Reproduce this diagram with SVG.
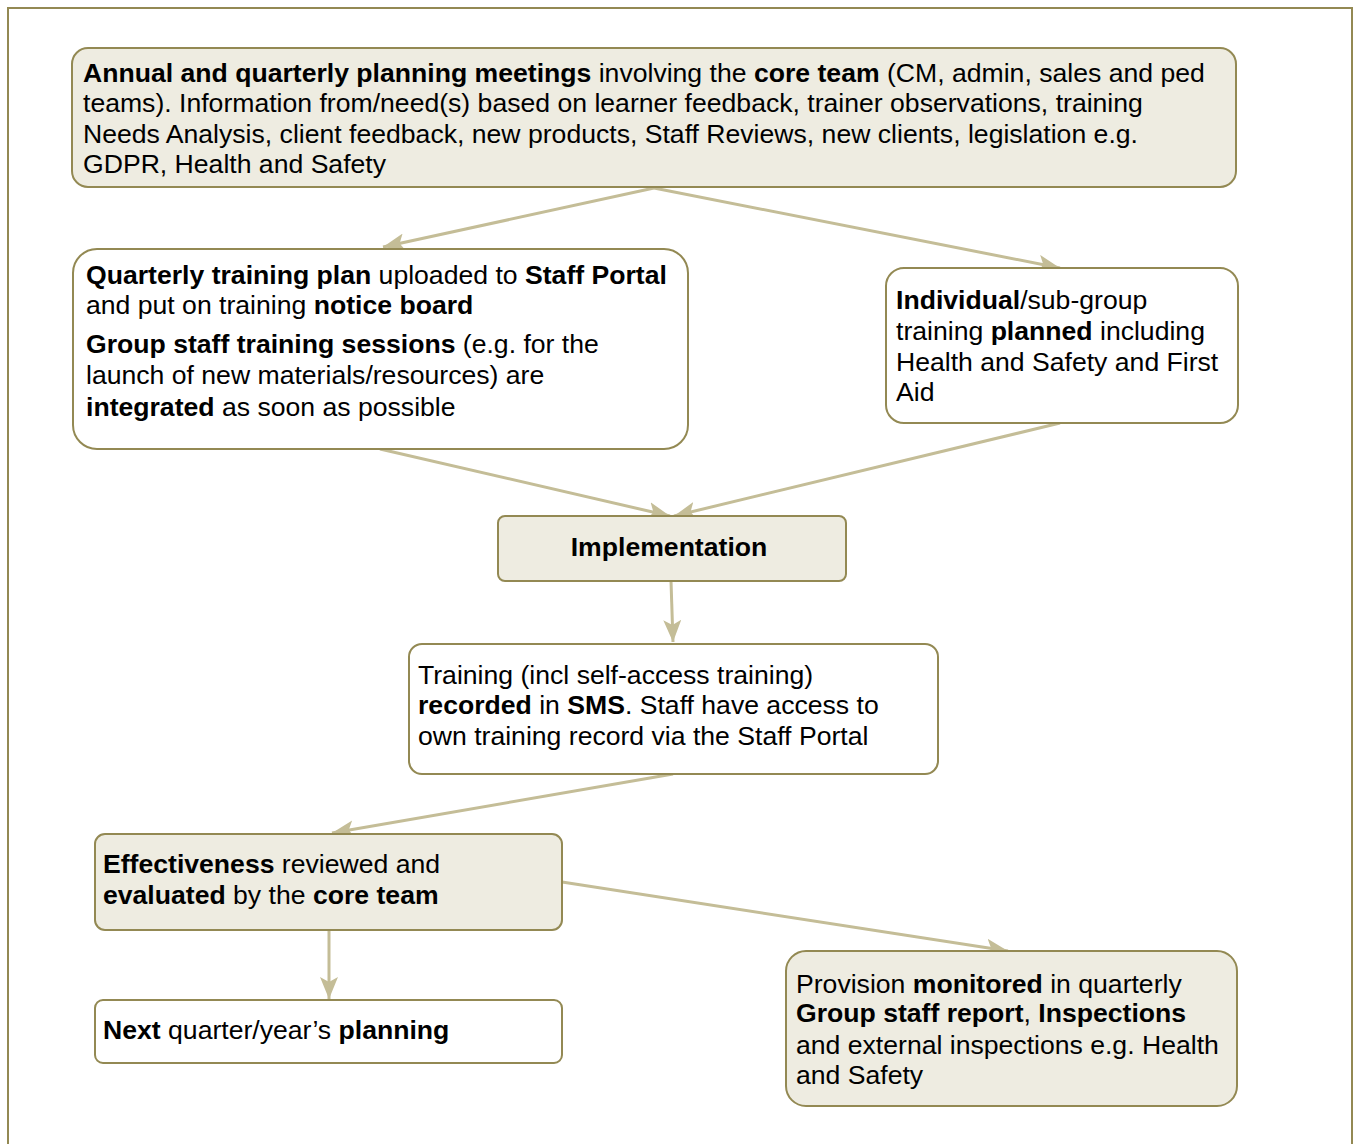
<svg xmlns="http://www.w3.org/2000/svg" width="1356" height="1144" viewBox="0 0 1356 1144">
  <style>
    .frame { fill: #ffffff; stroke: #938953; stroke-width: 2; }
    .box { stroke: #938953; stroke-width: 2; }
    .tint { fill: #EEECE1; }
    .plain { fill: #ffffff; }
    text { font-family: "Liberation Sans", Arial, sans-serif; font-size: 26.6px; fill: #000000; }
    .b { font-weight: bold; }
    .conn { fill: none; stroke: #C4BD97; stroke-width: 3; }
  </style>
  <defs>
    <marker id="ah" viewBox="0 0 22 18" refX="22" refY="9" markerWidth="22" markerHeight="18" markerUnits="userSpaceOnUse" orient="auto">
      <path d="M0,0 L22,9 L0,18 L5,9 z" fill="#C4BD97"/>
    </marker>
  </defs>

  <!-- page frame -->
  <rect class="frame" x="8" y="8" width="1344" height="1160"/>

  <!-- connectors -->
  <g id="connectors">
    <line class="conn" x1="654" y1="188" x2="383" y2="247" marker-end="url(#ah)"/>
    <line class="conn" x1="654" y1="188" x2="1060" y2="268" marker-end="url(#ah)"/>
    <line class="conn" x1="380" y1="449" x2="670" y2="516" marker-end="url(#ah)"/>
    <line class="conn" x1="1060" y1="423" x2="674" y2="516" marker-end="url(#ah)"/>
    <line class="conn" x1="671" y1="581" x2="673" y2="642" marker-end="url(#ah)"/>
    <line class="conn" x1="673" y1="774" x2="332" y2="833" marker-end="url(#ah)"/>
    <line class="conn" x1="329" y1="930" x2="329" y2="999" marker-end="url(#ah)"/>
    <line class="conn" x1="562" y1="882" x2="1008" y2="951" marker-end="url(#ah)"/>
  </g>

  <g id="planning-meetings">
    <rect class="box tint" x="72" y="48" width="1164" height="139" rx="16"/>
    <text x="83" y="82"><tspan class="b">Annual and quarterly planning meetings</tspan> involving the <tspan class="b">core team</tspan> (CM, admin, sales and ped</text>
    <text x="83" y="112">teams). Information from/need(s) based on learner feedback, trainer observations, training</text>
    <text x="83" y="143">Needs Analysis, client feedback, new products, Staff Reviews, new clients, legislation e.g.</text>
    <text x="83" y="173">GDPR, Health and Safety</text>
  </g>

  <g id="quarterly-plan">
    <rect class="box plain" x="73" y="249" width="615" height="200" rx="24"/>
    <text x="86" y="284"><tspan class="b">Quarterly training plan</tspan> uploaded to <tspan class="b">Staff Portal</tspan></text>
    <text x="86" y="314">and put on training <tspan class="b">notice board</tspan></text>
    <text x="86" y="353"><tspan class="b">Group staff training sessions</tspan> (e.g. for the</text>
    <text x="86" y="384">launch of new materials/resources) are</text>
    <text x="86" y="416"><tspan class="b">integrated</tspan> as soon as possible</text>
  </g>

  <g id="individual-training">
    <rect class="box plain" x="886" y="268" width="352" height="155" rx="18"/>
    <text x="896" y="309"><tspan class="b">Individual</tspan>/sub-group</text>
    <text x="896" y="340">training <tspan class="b">planned</tspan> including</text>
    <text x="896" y="371">Health and Safety and First</text>
    <text x="896" y="401">Aid</text>
  </g>

  <g id="implementation">
    <rect class="box tint" x="498" y="516" width="348" height="65" rx="7"/>
    <text class="b" x="669" y="556" text-anchor="middle">Implementation</text>
  </g>

  <g id="training-recorded">
    <rect class="box plain" x="409" y="644" width="529" height="130" rx="13"/>
    <text x="418" y="684">Training (incl self-access training)</text>
    <text x="418" y="714"><tspan class="b">recorded</tspan> in <tspan class="b">SMS</tspan>. Staff have access to</text>
    <text x="418" y="745">own training record via the Staff Portal</text>
  </g>

  <g id="effectiveness">
    <rect class="box tint" x="95" y="834" width="467" height="96" rx="10"/>
    <text x="103" y="873"><tspan class="b">Effectiveness</tspan> reviewed and</text>
    <text x="103" y="904"><tspan class="b">evaluated</tspan> by the <tspan class="b">core team</tspan></text>
  </g>

  <g id="next-planning">
    <rect class="box plain" x="95" y="1000" width="467" height="63" rx="8"/>
    <text x="103" y="1039"><tspan class="b">Next</tspan> quarter/year’s <tspan class="b">planning</tspan></text>
  </g>

  <g id="provision-monitored">
    <rect class="box tint" x="786" y="951" width="451" height="155" rx="20"/>
    <text x="796" y="993">Provision <tspan class="b">monitored</tspan> in quarterly</text>
    <text x="796" y="1022"><tspan class="b">Group staff report</tspan>, <tspan class="b">Inspections</tspan></text>
    <text x="796" y="1054">and external inspections e.g. Health</text>
    <text x="796" y="1084">and Safety</text>
  </g>
</svg>
